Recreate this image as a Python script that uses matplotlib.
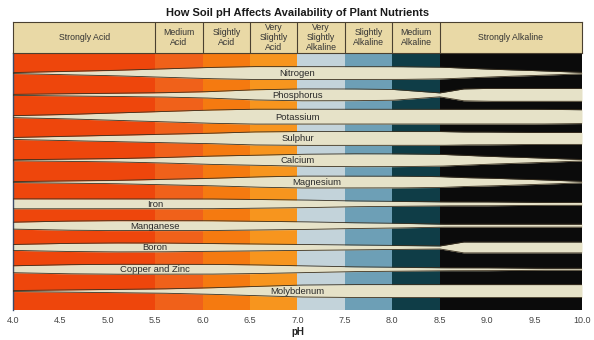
import numpy as np
import matplotlib.pyplot as plt

plt.rcParams['font.family'] = ['Liberation Sans', 'DejaVu Sans']

# pH grid where band widths were read
ph = [4.0, 4.5, 5.0, 5.5, 6.0, 6.5, 7.0, 7.5, 8.0, 8.5, 8.75, 9.0, 9.5, 10.0]

nutrients = ['Nitrogen', 'Phosphorus', 'Potassium', 'Sulphur', 'Calcium',
             'Magnesium', 'Iron', 'Manganese', 'Boron', 'Copper and Zinc',
             'Molybdenum']

# relative availability (band thickness) along the pH grid
nitrogen   = [1, 3, 5, 8, 11, 13, 13, 13, 13, 12, 10, 8, 5, 1.5]
phosphorus = [1, 2, 3, 4, 6, 10, 12, 12, 11, 4, 12, 13, 13, 13]
potassium  = [2, 4, 7, 10, 13, 15, 15, 15, 15, 15, 15, 15, 15, 14]
sulphur    = [2, 4, 6, 8, 10, 13, 14, 14, 14, 14, 13, 13, 12, 12]
calcium    = [1, 2, 3, 5, 8, 10, 12, 13, 13, 12, 10, 8, 5, 1.5]
magnesium  = [1, 2, 3, 5, 7, 10, 12, 12, 12, 11, 9, 8, 5, 1.5]
iron       = [10, 10, 10, 10, 10, 9, 8, 6, 5, 4, 4, 4, 3, 3]
manganese  = [7, 9, 10, 10, 10, 9, 8, 6, 5, 3, 3, 3, 3, 3]
boron      = [6, 8, 9, 9, 8, 7, 6, 5, 4, 3, 11, 11, 11, 11]
copper_zinc = [7, 9, 10, 10, 10, 9, 7, 5, 4, 3, 3, 3, 2, 2]
molybdenum = [1, 2, 3, 4, 6, 9, 12, 13, 13, 13, 13, 13, 13, 13]

availability = [nitrogen, phosphorus, potassium, sulphur, calcium, magnesium,
                iron, manganese, boron, copper_zinc, molybdenum]

# where each nutrient name is written (pH)
label_x = [7.0, 7.0, 7.0, 7.0, 7.0, 7.2, 5.5, 5.5, 5.5, 5.5, 7.0]

# soil reaction classes
bounds = [4.0, 5.5, 6.0, 6.5, 7.0, 7.5, 8.0, 8.5, 10.0]
classes = ['Strongly Acid', 'Medium\nAcid', 'Slightly\nAcid', 'Very\nSlightly\nAcid',
           'Very\nSlightly\nAlkaline', 'Slightly\nAlkaline', 'Medium\nAlkaline',
           'Strongly Alkaline']
class_colors = ['#ee460c', '#f0611a', '#f57a10', '#f7951e',
                '#c3d3da', '#6d9fb6', '#0f3d47', '#0b0b0b']

ticks = np.arange(4.0, 10.01, 0.5)

cream = '#e6e2c8'
edge = '#3a3020'
row = 22.0  # thickness units per row

fig = plt.figure(figsize=(5.94, 3.40), dpi=100)
ax = fig.add_axes([13/594, 1 - 310/340, 569/594, 257/340])
hx = fig.add_axes([13/594, 1 - 53/340, 569/594, 31/340])

# coloured pH columns
for k in range(len(classes)):
    ax.axvspan(bounds[k], bounds[k + 1], color=class_colors[k], lw=0, zorder=0)

xf = np.linspace(4.0, 10.0, 1201)
for i, (name, w) in enumerate(zip(nutrients, availability)):
    half = np.interp(xf, ph, w) / row / 2
    ax.fill_between(xf, i - half, i + half, color=cream, lw=0, zorder=2)
    ax.plot(xf, i - half, color=edge, lw=0.6, zorder=3)
    ax.plot(xf, i + half, color=edge, lw=0.6, zorder=3)
    ax.text(label_x[i], i + 0.02, name, ha='center', va='center',
            fontsize=6.8, color='#2a2a2a', zorder=4)

ax.set_xlim(4.0, 10.0)
ax.set_ylim(10.87, -0.92)
ax.set_yticks([])
ax.set_xticks(ticks)
ax.set_xticklabels([f'{t:.1f}' for t in ticks], fontsize=6.5, color='#444444')
ax.tick_params(axis='x', length=0, pad=4)
ax.set_xlabel('pH', fontsize=7, fontweight='bold', labelpad=2, color='#222222')
for s in ['top', 'right']:
    ax.spines[s].set_visible(False)
ax.spines['bottom'].set_visible(False)
ax.spines['left'].set_color('#3a4a6a')
ax.spines['left'].set_linewidth(1.0)

# header with class names
hx.set_facecolor('#e9d9a6')
hx.set_xlim(4.0, 10.0)
hx.set_ylim(0, 1)
hx.set_xticks([])
hx.set_yticks([])
for s in hx.spines.values():
    s.set_color('#4a4030')
    s.set_linewidth(0.8)
for b in bounds[1:-1]:
    hx.axvline(b, color='#4a4030', lw=0.8)
for k, c in enumerate(classes):
    hx.text((bounds[k] + bounds[k + 1]) / 2, 0.5, c, ha='center', va='center',
            fontsize=6.3, color='#333333', linespacing=1.1)

fig.text(298/594, 1 - 13/340, 'How Soil pH Affects Availability of Plant Nutrients',
         ha='center', va='center', fontsize=8, fontweight='bold', color='#1a1a1a')

fig.savefig('out.png', dpi=100)
